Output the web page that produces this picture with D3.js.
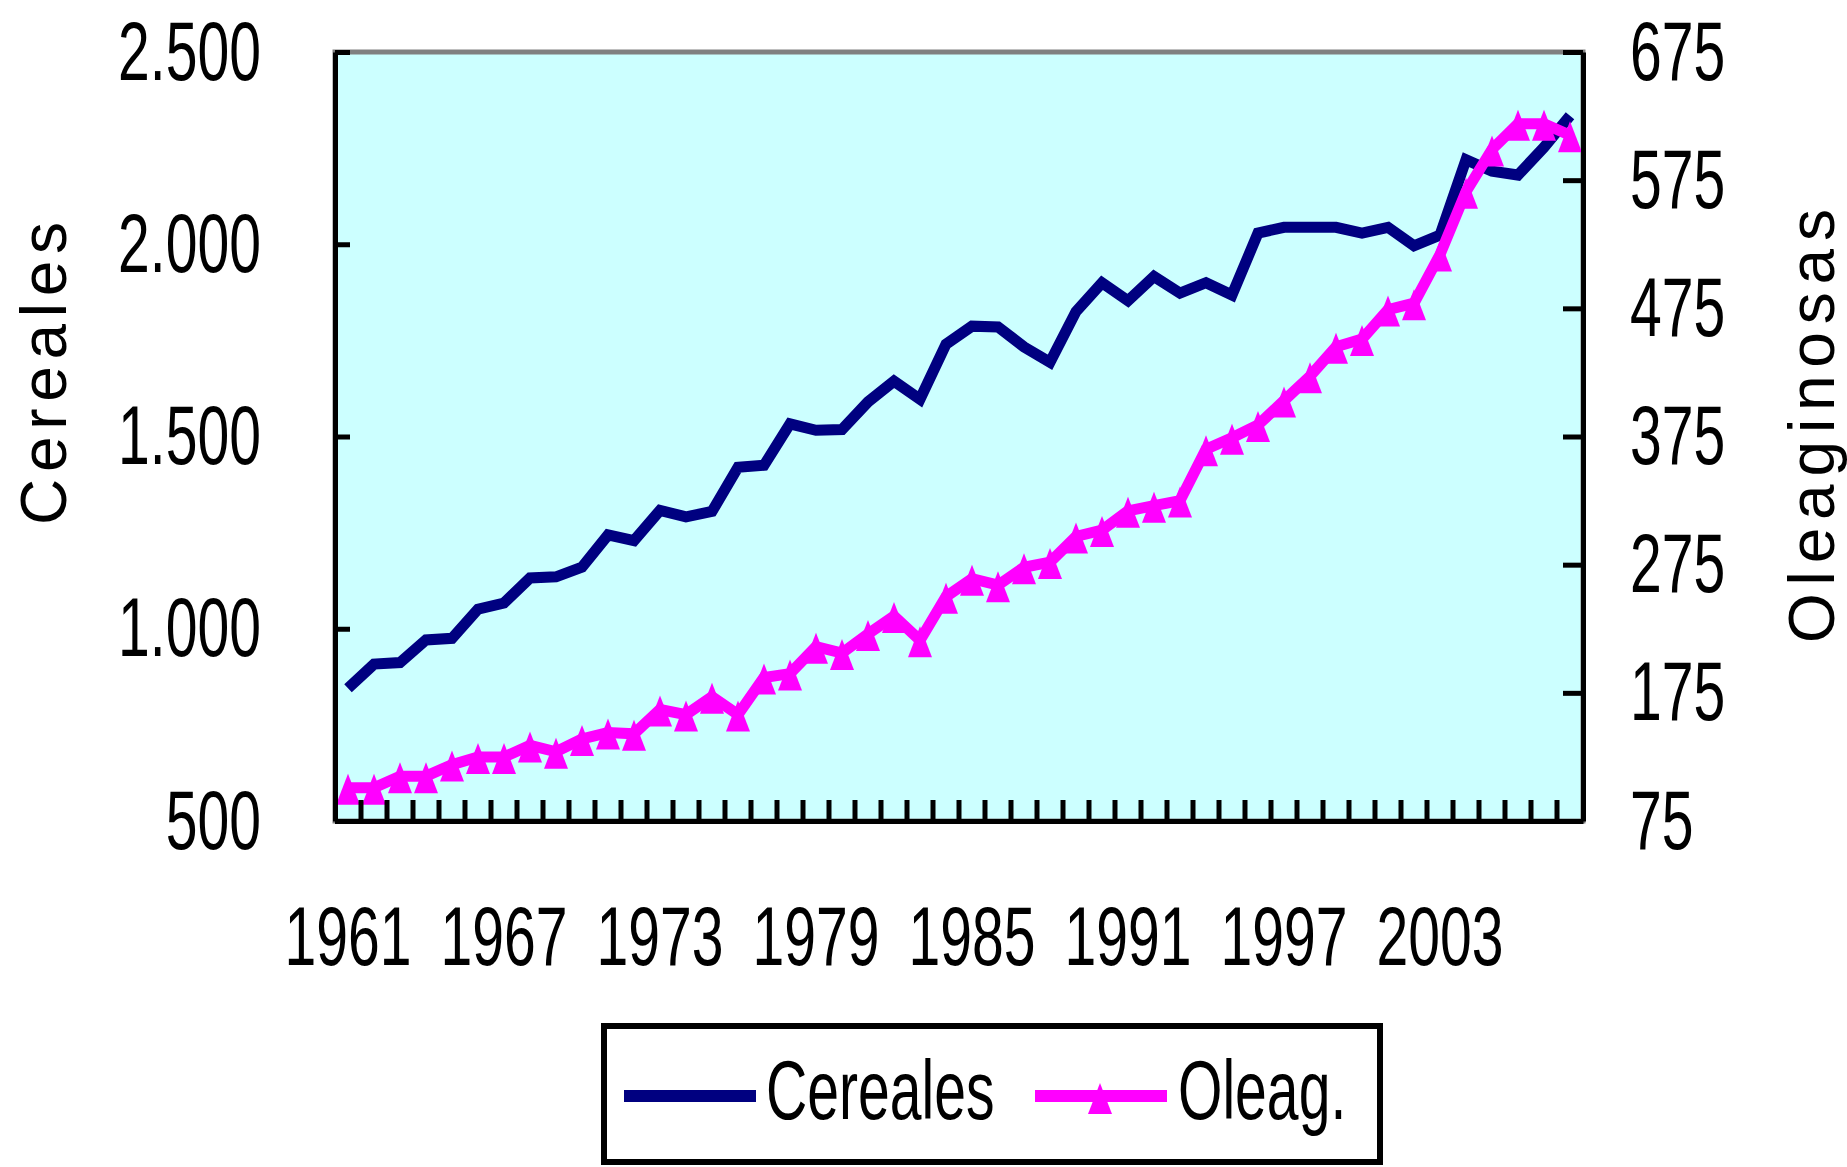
<!DOCTYPE html>
<html>
<head>
<meta charset="utf-8">
<script src="https://cdn.jsdelivr.net/npm/d3@7/dist/d3.min.js"></script>
<style>
  body { margin: 0; background: #fff; }
  svg { display: block; }
  text { font-family: "Liberation Sans", Arial, sans-serif; fill: #000; }
</style>
</head>
<body>
<div id="chart"></div>
<script>
// Data
const years = [1961, 1962, 1963, 1964, 1965, 1966, 1967, 1968, 1969, 1970,
  1971, 1972, 1973, 1974, 1975, 1976, 1977, 1978, 1979, 1980,
  1981, 1982, 1983, 1984, 1985, 1986, 1987, 1988, 1989, 1990,
  1991, 1992, 1993, 1994, 1995, 1996, 1997, 1998, 1999, 2000,
  2001, 2002, 2003, 2004, 2005, 2006, 2007, 2008]
const cereales = [845, 908, 912, 971, 975, 1051, 1067, 1132, 1135, 1160,
  1244, 1229, 1308, 1291, 1305, 1420, 1425, 1533, 1516, 1518,
  1590, 1644, 1597, 1740, 1787, 1785, 1733, 1693, 1825, 1900,
  1853, 1916, 1873, 1900, 1868, 2029, 2044, 2044, 2044, 2029,
  2044, 1996, 2024, 2220, 2190, 2180, 2252, 2334]
const oleag = [101, 101, 110, 110, 119, 125, 125, 134, 129, 139,
  144, 143, 162, 158, 172, 158, 187, 190, 211, 206,
  221, 235, 216, 250, 264, 259, 273, 277, 297, 302,
  317, 321, 325, 365, 374, 384, 403, 422, 445, 451,
  474, 479, 517, 566, 599, 619, 619, 610]
const yearLabels = [1961, 1967, 1973, 1979, 1985, 1991, 1997, 2003]
const leftTicks = [500, 1000, 1500, 2000, 2500]
const rightTicks = [75, 175, 275, 375, 475, 575, 675]

const W = 1847, H = 1167
const plot = {left: 335, right: 1583, top: 52, bottom: 821}
const sx = 0.68   // narrow bitmap-like font

const svg = d3.select("#chart").append("svg")
  .attr("width", W)
  .attr("height", H)

const x = d3.scaleBand()
  .domain(years)
  .range([plot.left, plot.right])
  .padding(0)
const yL = d3.scaleLinear()
  .domain([500, 2500])
  .range([plot.bottom, plot.top])
const yR = d3.scaleLinear()
  .domain([75, 675])
  .range([plot.bottom, plot.top])

const fmt = d3.formatLocale({decimal: ",", thousands: ".", grouping: [3], currency: ["", ""]}).format(",")
const cx = (d, i) => x(years[i]) + x.bandwidth() / 2

// Plot area
svg.append("rect")
  .attr("x", plot.left)
  .attr("y", plot.top)
  .attr("width", plot.right - plot.left)
  .attr("height", plot.bottom - plot.top)
  .attr("fill", "#ccffff")
  .attr("stroke", "#808080")
  .attr("stroke-width", 5)

// Series
svg.append("path")
  .datum(cereales)
  .attr("fill", "none")
  .attr("stroke", "#000080")
  .attr("stroke-width", 11)
  .attr("d", d3.line().x(cx).y(d => yL(d)))

svg.append("path")
  .datum(oleag)
  .attr("fill", "none")
  .attr("stroke", "#ff00ff")
  .attr("stroke-width", 11)
  .attr("d", d3.line().x(cx).y(d => yR(d)))

const tri = "M0,-14L12,17L-12,17Z"
svg.append("g")
  .selectAll("path")
  .data(oleag)
  .enter()
  .append("path")
    .attr("d", tri)
    .attr("fill", "#ff00ff")
    .attr("transform", (d, i) => "translate(" + cx(d, i) + "," + yR(d) + ")")

// Axes
function styleAxis(g) {
  g.select(".domain").attr("stroke", "#000").attr("stroke-width", 5)
  g.selectAll(".tick line").attr("stroke", "#000").attr("stroke-width", 5)
  g.selectAll(".tick text")
    .attr("font-size", 84)
    .attr("font-family", "Liberation Sans, Arial, sans-serif")
    .attr("fill", "#000")
}

const gL = svg.append("g")
  .attr("transform", "translate(" + plot.left + ",0)")
  .call(d3.axisLeft(yL).tickValues(leftTicks).tickFormat(fmt).tickSizeInner(-15).tickSizeOuter(0))
styleAxis(gL)
gL.selectAll(".tick text")
  .attr("x", -74 / sx)
  .attr("y", 27)
  .attr("dy", null)
  .attr("transform", "scale(" + sx + ",1)")

const gR = svg.append("g")
  .attr("transform", "translate(" + plot.right + ",0)")
  .call(d3.axisRight(yR).tickValues(rightTicks).tickSizeInner(-20).tickSizeOuter(0))
styleAxis(gR)
gR.selectAll(".tick text")
  .attr("x", 47 / sx)
  .attr("y", 27)
  .attr("dy", null)
  .attr("transform", "scale(" + sx + ",1)")

const gB = svg.append("g")
  .attr("transform", "translate(0," + plot.bottom + ")")
  .call(d3.axisBottom(x).tickValues(yearLabels).tickSize(0))
styleAxis(gB)
gB.selectAll(".tick text")
  .attr("y", 144)
  .attr("dy", null)
  .attr("transform", "scale(" + sx + ",1)")

// tick marks between categories
svg.append("g")
  .selectAll("line")
  .data(years.slice(1))
  .enter()
  .append("line")
    .attr("x1", d => x(d))
    .attr("x2", d => x(d))
    .attr("y1", plot.bottom)
    .attr("y2", plot.bottom - 21)
    .attr("stroke", "#000")
    .attr("stroke-width", 5)

// Axis titles
svg.append("text")
  .attr("transform", "translate(66,525) rotate(-90)")
  .attr("font-size", 64)
  .attr("textLength", 303)
  .attr("lengthAdjust", "spacing")
  .text("Cereales")

svg.append("text")
  .attr("transform", "translate(1834,643) rotate(-90)")
  .attr("font-size", 64)
  .attr("textLength", 434)
  .attr("lengthAdjust", "spacing")
  .text("Oleaginosas")

// Legend
const legend = svg.append("g")
legend.append("rect")
  .attr("x", 604)
  .attr("y", 1026)
  .attr("width", 776)
  .attr("height", 136)
  .attr("fill", "#fff")
  .attr("stroke", "#000")
  .attr("stroke-width", 6)

legend.append("line")
  .attr("x1", 624).attr("x2", 756)
  .attr("y1", 1096).attr("y2", 1096)
  .attr("stroke", "#000080")
  .attr("stroke-width", 12)
legend.append("text")
  .attr("transform", "translate(766,1119) scale(" + sx + ",1)")
  .attr("font-size", 84)
  .text("Cereales")

legend.append("line")
  .attr("x1", 1035).attr("x2", 1167)
  .attr("y1", 1096).attr("y2", 1096)
  .attr("stroke", "#ff00ff")
  .attr("stroke-width", 12)
legend.append("path")
  .attr("d", tri)
  .attr("fill", "#ff00ff")
  .attr("transform", "translate(1100,1097)")
legend.append("text")
  .attr("transform", "translate(1178,1119) scale(" + sx + ",1)")
  .attr("font-size", 84)
  .text("Oleag.")
</script>
</body>
</html>
